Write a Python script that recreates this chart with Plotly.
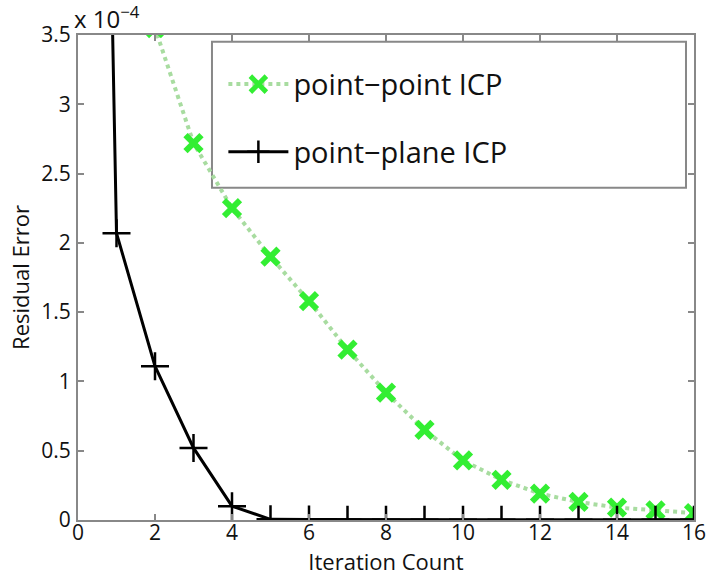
import plotly.graph_objects as go

# Data (Residual Error in units of 1e-4)
iters_pp = [1, 2, 3, 4, 5, 6, 7, 8, 9, 10, 11, 12, 13, 14, 15, 16]
err_point_point = [4.8, 3.55, 2.72, 2.25, 1.90, 1.58, 1.23, 0.92, 0.65, 0.43, 0.29, 0.19, 0.13, 0.09, 0.07, 0.05]
iters_pl = [0, 1, 2, 3, 4, 5, 6, 7, 8, 9, 10, 11, 12, 13, 14, 15, 16]
err_point_plane = [16.4, 2.07, 1.11, 0.52, 0.10, 0.005, 0.003, 0.002, 0.002, 0.002, 0.002, 0.002, 0.002, 0.002, 0.002, 0.002, 0.002]
x_ticks = [0, 2, 4, 6, 8, 10, 12, 14, 16]
y_ticks = [0, 0.5, 1, 1.5, 2, 2.5, 3, 3.5]
y_tick_labels = ["0", "0.5", "1", "1.5", "2", "2.5", "3", "3.5"]

FONT = "Open Sans"

fig = go.Figure()
fig.add_trace(go.Scatter(
    x=iters_pp, y=err_point_point, name="point\u2212point ICP",
    mode="lines+markers", legendgroup="a",
    line=dict(color="#a8dca0", width=4, dash="dot"),
    marker=dict(symbol="x-thin", size=16, color="#33ee33",
                line=dict(color="#33ee33", width=6)),
    cliponaxis=True,
))
fig.add_trace(go.Scatter(
    x=iters_pl, y=err_point_plane, name="point\u2212plane ICP",
    mode="lines+markers", legendgroup="b",
    line=dict(color="black", width=3),
    marker=dict(symbol="cross-thin", size=20, color="black",
                line=dict(color="black", width=2.5)),
    cliponaxis=True,
))

axis_common = dict(
    showgrid=False, zeroline=False, showline=True, linecolor="#888888", linewidth=2,
    mirror="ticks", ticks="inside", ticklen=6, tickcolor="#888888", tickwidth=1.5,
    tickfont=dict(family=FONT, size=21, color="#111111"),
    ticklabeloverflow="allow", automargin=False,
)

fig.update_layout(
    width=707, height=577, autosize=False,
    margin=dict(l=78, r=13, t=35, b=57, autoexpand=False),
    paper_bgcolor="white", plot_bgcolor="white",
    xaxis=dict(range=[0, 16], tickvals=x_ticks, ticktext=[str(v) for v in x_ticks],
               ticklabelstandoff=-7,
               title=dict(text="Iteration Count", font=dict(family=FONT, size=22, color="#111111"), standoff=0),
               **axis_common),
    yaxis=dict(range=[0, 3.5], tickvals=y_ticks, ticktext=y_tick_labels,
               ticklabelstandoff=1,
               title=dict(text="Residual Error", font=dict(family=FONT, size=22, color="#111111"), standoff=6),
               **axis_common),
    legend=dict(
        x=0.236, y=0.951, xanchor="left", yanchor="top",
        font=dict(family=FONT, size=29, color="#111111"),
        bgcolor="rgba(0,0,0,0)", borderwidth=0,
        traceorder="grouped", tracegroupgap=27, itemwidth=60,
    ),
    shapes=[dict(type="rect", xref="paper", yref="paper",
                 x0=0.2175, x1=0.987, y0=0.685, y1=0.986,
                 line=dict(color="#888888", width=2), fillcolor="white", layer="below")],
    annotations=[dict(text="x 10<sup>\u22124</sup>", xref="paper", yref="paper",
                      x=0.0, y=1.0, xanchor="left", yanchor="bottom", showarrow=False,
                      xshift=-6, yshift=-2,
                      font=dict(family=FONT, size=24, color="#111111"))],
    showlegend=True,
)

fig.write_html(
    "out.html",
    config={"displayModeBar": False, "responsive": False},
    post_script="document.body.style.margin='0';document.body.style.overflow='hidden';",
)
